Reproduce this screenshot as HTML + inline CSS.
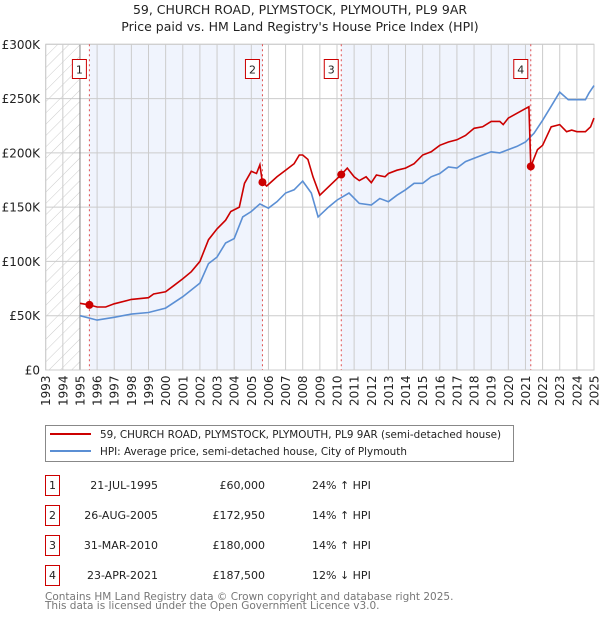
<!DOCTYPE html>
<html><head><meta charset="utf-8">
<style>
body{margin:0;background:#fff;font-family:"Liberation Sans","DejaVu Sans",sans-serif;}
#wrap{position:relative;width:600px;height:620px;overflow:hidden;}
</style></head>
<body>
<div id="wrap">
<svg id="chart" width="600" height="620" xmlns="http://www.w3.org/2000/svg" style="font-family:'DejaVu Sans','Liberation Sans',sans-serif"></svg>
</div>
<script>
const hpiYears=[1995,1996,1997,1998,1999,2000,2001,2002,2002.5,2003,2003.5,2004,2004.5,2005,2005.5,2006,2006.5,2007,2007.5,2008,2008.5,2008.9,2009.5,2010,2010.7,2011.3,2012,2012.5,2013,2013.5,2014,2014.5,2015,2015.5,2016,2016.5,2017,2017.5,2018,2018.5,2019,2019.5,2020,2020.5,2021,2021.5,2022,2022.5,2023,2023.5,2024,2024.5,2024.7,2025];
const hpiValues=[50,46,48.5,51.5,53,57,67.5,80,98,104,117,121,141,146,153,149,155,163,166,174,163,141,150,156.5,163,153.5,152,158,155,161,166,172,172,178,181,187,186,192,195,198,201,200,203,206,210,218,230,243,256,249,249,249,255,262];
const priceYears=[1995,1995.55,1996,1996.5,1997,1998,1999,1999.3,2000,2000.5,2001,2001.5,2002,2002.5,2003,2003.5,2003.8,2004.3,2004.6,2005,2005.3,2005.5,2005.65,2005.9,2006.5,2007,2007.5,2007.8,2008,2008.3,2008.6,2009,2010.25,2010.6,2011,2011.3,2011.7,2012,2012.3,2012.8,2013,2013.5,2014,2014.5,2015,2015.5,2016,2016.5,2017,2017.5,2018,2018.5,2019,2019.5,2019.7,2020,2020.5,2021.2,2021.31,2021.7,2022,2022.5,2023,2023.4,2023.7,2024,2024.5,2024.8,2025];
const priceValues=[61.4,60,58,58,61,65,66.6,70,72,78,84,90.5,100,120,130,138,146,150,172,183,181,189,172.95,169.5,178,184,190,198,198,194,178,161,180,186,178,174.5,178,172.5,179.6,178,181,184,186,190,198,201,207,210,212,216,222.6,224,229,229,226,232,236.4,242.5,187.5,203,207,224,226,219.5,221,219.5,219.5,224,232];
const saleYears=[1995.55,2005.65,2010.25,2021.31];
const saleValues=[60,172.95,180,187.5];
const saleLabels=["1","2","3","4"];
const saleDates=["21-JUL-1995","26-AUG-2005","31-MAR-2010","23-APR-2021"];
const salePrices=["£60,000","£172,950","£180,000","£187,500"];
const saleHpi=["24% ↑ HPI","14% ↑ HPI","14% ↑ HPI","12% ↓ HPI"];
const yTicks=[0,50,100,150,200,250,300];
const yTickLabels=["£0","£50K","£100K","£150K","£200K","£250K","£300K"];

const L=45.7,R=594,T=44.3,B=370;
const X0=1993,X1=2025,YMAX=300;
const x=v=>L+(v-X0)/(X1-X0)*(R-L);
const y=v=>B-v/YMAX*(B-T);
const svg=document.getElementById('chart');
const NS='http://www.w3.org/2000/svg';
function mk(tag,attrs,parent){const e=document.createElementNS(NS,tag);for(const k in attrs)e.setAttribute(k,attrs[k]);(parent||svg).appendChild(e);return e;}

const defs=mk('defs',{});
const pat=mk('pattern',{id:'hatch',width:8,height:8,patternUnits:'userSpaceOnUse',patternTransform:'rotate(45)'},defs);
mk('line',{x1:0,y1:0,x2:0,y2:8,stroke:'#ccc','stroke-width':1},pat);

let t=mk('text',{x:300,y:14,'text-anchor':'middle','font-size':12.5,fill:'#222'});t.textContent='59, CHURCH ROAD, PLYMSTOCK, PLYMOUTH, PL9 9AR';


t=mk('text',{x:300,y:31,'text-anchor':'middle','font-size':12.5,fill:'#222'});t.textContent="Price paid vs. HM Land Registry's House Price Index (HPI)";



let r=mk('rect',{x:L,y:T,width:x(1995)-L,height:B-T,fill:'url(#hatch)'});


r=mk('rect',{x:x(saleYears[0]),y:T,width:x(saleYears[1])-x(saleYears[0]),height:B-T,fill:'#f0f4fd'});


r=mk('rect',{x:x(saleYears[2]),y:T,width:x(saleYears[3])-x(saleYears[2]),height:B-T,fill:'#f0f4fd'});



for(let yr=X0;yr<=X1;yr++){
  const g=mk('line',{x1:x(yr),x2:x(yr),y1:T,y2:B,stroke:'#cccccc','stroke-width':1});
  
  
  const lbl=mk('text',{transform:`translate(${x(yr)+4.5},${B+36}) rotate(-90)`,'font-size':12,fill:'#222'});
  lbl.textContent=String(yr);
  
  
}
yTicks.forEach((v,i)=>{
  const g=mk('line',{x1:L,x2:R,y1:y(v),y2:y(v),stroke:'#cccccc','stroke-width':1});
  
  
  const lbl=mk('text',{x:40,y:y(v)+4.5,'text-anchor':'end','font-size':12,fill:'#222'});
  lbl.textContent=yTickLabels[i];
  
  
});
let ax=mk('line',{x1:x(1995),x2:x(1995),y1:T,y2:B,stroke:'#888','stroke-width':1});


ax=mk('rect',{x:L,y:T,width:R-L,height:B-T,fill:'none',stroke:'#ccc'});



saleYears.forEach((s,i)=>{
  const l=mk('line',{x1:x(s),x2:x(s),y1:T,y2:B,stroke:'#e05050','stroke-width':1,'stroke-dasharray':'2,3'});
  
  
});

function path(xs,vs){return xs.map((a,i)=>(i?'L':'M')+x(a).toFixed(1)+','+y(vs[i]).toFixed(1)).join('');}
let p=mk('path',{d:path(hpiYears,hpiValues),fill:'none',stroke:'#5b8fd4','stroke-width':1.6});


p=mk('path',{d:path(priceYears,priceValues),fill:'none',stroke:'#cc0000','stroke-width':1.6});



saleYears.forEach((s,i)=>{
  const c=mk('circle',{cx:x(s),cy:y(saleValues[i]),r:4,fill:'#cc0000'});
  
  
  const bx=mk('rect',{x:x(s)-17,y:59.5,width:14,height:19,fill:'#fff',stroke:'#cc0000','stroke-width':1});
  
  
  const tx=mk('text',{x:x(s)-10,y:73.5,'text-anchor':'middle','font-size':11,fill:'#222'});
  tx.textContent=saleLabels[i];
  
  
});

const lg=mk('g',{});


mk('rect',{x:45.5,y:425.5,width:468,height:36,fill:'#fff',stroke:'#888'},lg);
mk('line',{x1:50,x2:91,y1:434,y2:434,stroke:'#cc0000','stroke-width':2},lg);
mk('line',{x1:50,x2:91,y1:451,y2:451,stroke:'#5b8fd4','stroke-width':2},lg);
let lt=mk('text',{x:100,y:438,'font-size':10.4,fill:'#222'},lg);lt.textContent='59, CHURCH ROAD, PLYMSTOCK, PLYMOUTH, PL9 9AR (semi-detached house)';


lt=mk('text',{x:100,y:455,'font-size':10.4,fill:'#222'},lg);lt.textContent='HPI: Average price, semi-detached house, City of Plymouth';



saleLabels.forEach((s,i)=>{
  const cy=483+i*30;
  const row=mk('g',{});
  
  
  mk('rect',{x:45.5,y:cy-7.5,width:14,height:20,fill:'#fff',stroke:'#cc0000'},row);
  let e=mk('text',{x:52.5,y:cy+6,'text-anchor':'middle','font-size':11,fill:'#222'},row);e.textContent=s;
  e=mk('text',{x:158,y:cy+6,'text-anchor':'end','font-size':11,fill:'#222'},row);e.textContent=saleDates[i];
  e=mk('text',{x:265,y:cy+6,'text-anchor':'end','font-size':11,fill:'#222'},row);e.textContent=salePrices[i];
  e=mk('text',{x:312,y:cy+6,'font-size':11,fill:'#222'},row);e.textContent=saleHpi[i];
});

let f=mk('text',{x:45,y:600,'font-size':10.5,fill:'#777'});f.textContent='Contains HM Land Registry data © Crown copyright and database right 2025.';


f=mk('text',{x:45,y:609,'font-size':10.5,fill:'#777'});f.textContent='This data is licensed under the Open Government Licence v3.0.';


</script>
</body></html>
